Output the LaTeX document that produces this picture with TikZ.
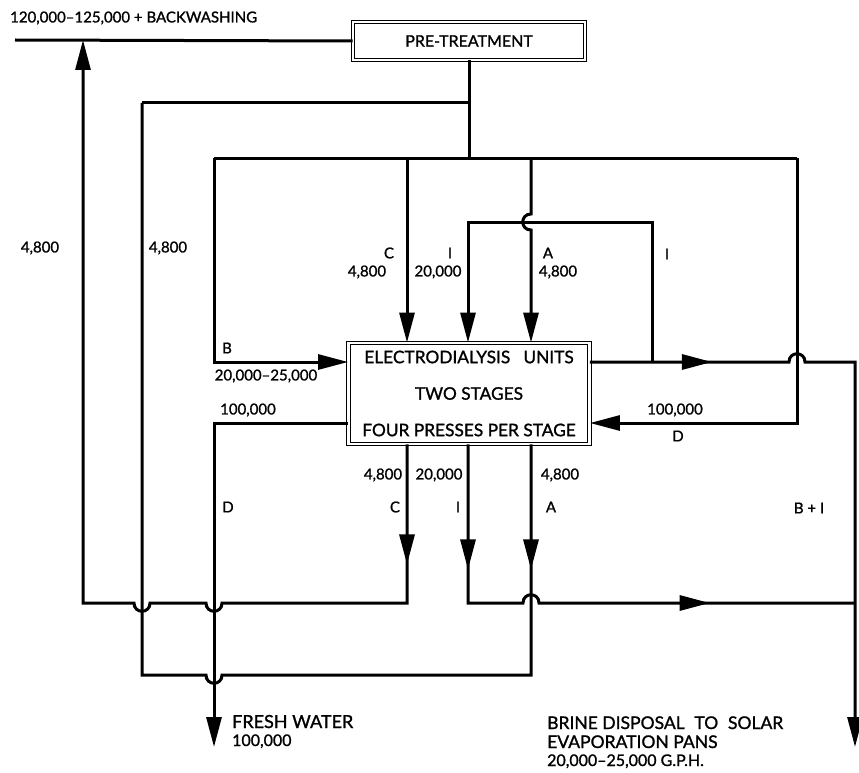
\documentclass[tikz,border=0pt]{standalone}
\usepackage{fontspec}
\setmainfont{Lato}[BoldFont=Lato, BoldFeatures={FakeBold=1.2}]
\usetikzlibrary{arrows.meta,decorations.markings}

\tikzset{
  >={Triangle[length=30pt,width=15pt]},
  flow/.style={line width=3pt},
  midarr/.style={postaction={decorate,decoration={markings,
      mark=at position #1 with {\arrow{>}}}}},
  unit/.style={draw, double, double distance=2.4pt, line width=0.9pt,
      align=center, inner sep=0pt},
  lab/.style={font=\fontsize{15}{18}\selectfont\bfseries, inner sep=0pt},
  big/.style={font=\fontsize{18}{19}\selectfont\bfseries, inner sep=0pt, anchor=base west},
}

\begin{document}
\begin{tikzpicture}[x=1pt,y=-1pt]
\useasboundingbox (0,0) rectangle (859,773);

% boxes
\node[unit, minimum width=232pt, minimum height=38pt, font=\fontsize{16}{18}\selectfont\bfseries] (pre) at (469,41) {PRE-TREATMENT};
\node[unit, minimum width=241pt, minimum height=101pt, font=\fontsize{17.3}{36.5}\selectfont\bfseries] (eu) at (469,393.5)
  {ELECTRODIALYSIS\hspace{.5em} UNITS\\ TWO STAGES\\ FOUR PRESSES PER STAGE};

% junctions and ends
\coordinate (inlet) at (15,40);
\coordinate (bwTop) at (83,40);
\coordinate (bwLow) at (83,603);
\coordinate (stemJ) at (469,103);
\coordinate (retTop) at (142,103);
\coordinate (retLow) at (142,675);
\coordinate (feedJ) at (469,158);
\coordinate (feedL) at (214,158);
\coordinate (feedR) at (797,158);
\coordinate (cTop) at (407,158);
\coordinate (aTop) at (531,158);
\coordinate (bIn) at (214,362);
\coordinate (iL) at (468,222);
\coordinate (iR) at (652,222);
\coordinate (iJoin) at (652,362);
\coordinate (dRin) at (797,423);
\coordinate (dOut) at (214,423);
\coordinate (outR) at (855,362);
\coordinate (bLow) at (855,603);
\coordinate (brineEnd) at (855,747);
\coordinate (fresh) at (214,747);
\coordinate (cLow) at (407,603);
\coordinate (iLow) at (468,603);
\coordinate (aLow) at (531,675);

% feed
\draw[flow] (inlet) -- (pre.west);
\draw[flow] (pre.south) -- (feedJ);
\draw[flow] (retTop) -- (stemJ);
\draw[flow] (feedL) -- (feedR);
\draw[flow,->] (feedL) -- (bIn) -- (eu.west |- bIn);
\draw[flow,->] (cTop) -- (cTop |- eu.north);
\draw[flow,->] (aTop) -- (531,214) .. controls (520,214) and (520,230) .. (531,230) -- (aTop |- eu.north);
\draw[flow,->] (iJoin) -- (iR) -- (iL) -- (iL |- eu.north);
\draw[flow,->] (feedR) -- (dRin) -- (eu.east |- dRin);

% outlets
\draw[flow,midarr=122pt,->] (eu.east |- outR) -- (789,362) .. controls (789,351) and (805,351) .. (805,362) -- (outR) -- (brineEnd);
\draw[flow,->] (eu.west |- dOut) -- (dOut) -- (fresh);
\draw[flow,midarr=120pt,->] (cTop |- eu.south) -- (cLow) -- (222,603) .. controls (222,614) and (206,614) .. (206,603)
  -- (150,603) .. controls (150,614) and (134,614) .. (134,603) -- (bwLow) -- (bwTop);
\draw[flow,midarr=125pt,midarr=410pt] (iL |- eu.south) -- (iLow) -- (523,603) .. controls (523,592) and (539,592) .. (539,603) -- (bLow);
\draw[flow,midarr=125pt] (aTop |- eu.south) -- (aLow) -- (222,675) .. controls (222,686) and (206,686) .. (206,675) -- (retLow) -- (retTop);

% labels
\node[lab,anchor=west] (lTop) at (10,18) {120,000–125,000 + BACKWASHING};
\node[lab] (lBWq) at (40,248) {4,800};
\node[lab] (lRetq) at (168,248) {4,800};
\node[lab] (lCin) at (389,253) {C};
\node[lab] (lCinq) at (367,272) {4,800};
\node[lab] (lIin) at (450,253) {I};
\node[lab] (lIinq) at (438,272) {20,000};
\node[lab] (lAin) at (548,253) {A};
\node[lab] (lAinq) at (558,272) {4,800};
\node[lab] (lIr) at (667,254) {I};
\node[lab] (lB) at (227,348) {B};
\node[lab] (lBq) at (266,376) {20,000–25,000};
\node[lab] (lDoq) at (248,410) {100,000};
\node[lab] (lDrq) at (675,410) {100,000};
\node[lab] (lDr) at (678,436) {D};
\node[lab] (lCoq) at (383,475) {4,800};
\node[lab] (lCo) at (395,507) {C};
\node[lab] (lIoq) at (439,475) {20,000};
\node[lab] (lIo) at (458,507) {I};
\node[lab] (lAoq) at (560,475) {4,800};
\node[lab] (lAo) at (551,507) {A};
\node[lab] (lDo) at (228,507) {D};
\node[lab] (lBI) at (809,508) {B + I};
\node[big] (lFresh) at (232,728) {FRESH WATER};
\node[big, font=\fontsize{16}{18}\selectfont\bfseries] (lFreshq) at (232,746) {100,000};
\node[big, font=\fontsize{17.5}{19}\selectfont\bfseries] (lBrine) at (547,729) {BRINE DISPOSAL\hspace{.3em} TO\hspace{.3em} SOLAR};
\node[big, font=\fontsize{17.5}{19}\selectfont\bfseries] (lBrineb) at (547,748) {EVAPORATION PANS};
\node[big, font=\fontsize{16}{18}\selectfont\bfseries] (lBrineq) at (547,766) {20,000–25,000 G.P.H.};
\end{tikzpicture}
\end{document}
